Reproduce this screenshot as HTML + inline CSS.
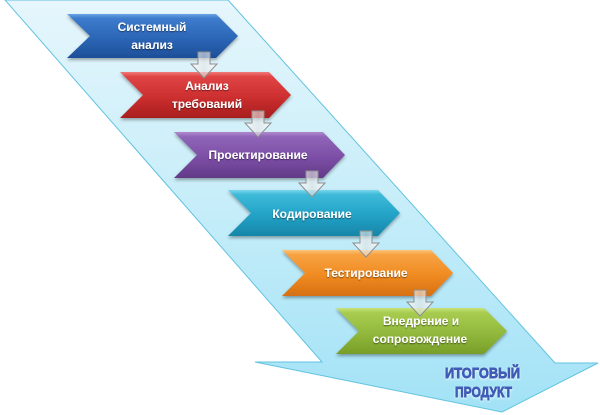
<!DOCTYPE html>
<html><head><meta charset="utf-8"><style>
html,body{margin:0;padding:0;background:#fff;width:600px;height:415px;overflow:hidden}
svg{display:block}
text{font-family:"Liberation Sans",sans-serif;font-weight:bold}
</style></head><body>
<svg width="600" height="415" viewBox="0 0 600 415" xmlns="http://www.w3.org/2000/svg">
<defs>
<linearGradient id="bg" x1="0" y1="0" x2="0" y2="1">
<stop offset="0" stop-color="#e6f6fc"/><stop offset="0.5" stop-color="#c6edf9"/><stop offset="1" stop-color="#a2e2f6"/>
</linearGradient>
<linearGradient id="gb" x1="0" y1="0" x2="0" y2="1"><stop offset="0" stop-color="#6aa3e4"/><stop offset="0.1" stop-color="#3d7bcc"/><stop offset="0.55" stop-color="#2c66b6"/><stop offset="1" stop-color="#1d4f98"/></linearGradient>
<linearGradient id="gr" x1="0" y1="0" x2="0" y2="1"><stop offset="0" stop-color="#f07a7a"/><stop offset="0.1" stop-color="#e04444"/><stop offset="0.55" stop-color="#cc2f2f"/><stop offset="1" stop-color="#a81e1e"/></linearGradient>
<linearGradient id="gp" x1="0" y1="0" x2="0" y2="1"><stop offset="0" stop-color="#b08ad0"/><stop offset="0.1" stop-color="#9066b8"/><stop offset="0.55" stop-color="#7c4ea6"/><stop offset="1" stop-color="#633a88"/></linearGradient>
<linearGradient id="gt" x1="0" y1="0" x2="0" y2="1"><stop offset="0" stop-color="#7ad6ec"/><stop offset="0.1" stop-color="#3ebad9"/><stop offset="0.55" stop-color="#22a2c6"/><stop offset="1" stop-color="#1786a8"/></linearGradient>
<linearGradient id="go" x1="0" y1="0" x2="0" y2="1"><stop offset="0" stop-color="#fcc47a"/><stop offset="0.1" stop-color="#f7a242"/><stop offset="0.55" stop-color="#f08b22"/><stop offset="1" stop-color="#d67012"/></linearGradient>
<linearGradient id="gg" x1="0" y1="0" x2="0" y2="1"><stop offset="0" stop-color="#c8e47c"/><stop offset="0.1" stop-color="#a8cc50"/><stop offset="0.55" stop-color="#92b93c"/><stop offset="1" stop-color="#789e28"/></linearGradient>
<linearGradient id="ga" x1="0" y1="0" x2="1" y2="0"><stop offset="0" stop-color="#ffffff" stop-opacity="0.75"/><stop offset="0.5" stop-color="#e4e4e4" stop-opacity="0.6"/><stop offset="1" stop-color="#ffffff" stop-opacity="0.75"/></linearGradient>
<filter id="sh" x="-10%" y="-20%" width="120%" height="150%"><feDropShadow dx="0" dy="2" stdDeviation="1.6" flood-color="#000" flood-opacity="0.35"/></filter>
<filter id="ts" x="-10%" y="-30%" width="120%" height="160%"><feDropShadow dx="0" dy="1" stdDeviation="0.6" flood-color="#000" flood-opacity="0.5"/></filter>
<filter id="gl" x="-10%" y="-30%" width="120%" height="160%"><feDropShadow dx="0" dy="1" stdDeviation="1" flood-color="#ffffff" flood-opacity="0.9"/></filter>
</defs>

<polygon points="5,0 228,0 555,363 598,363 502,412 255,362 322,362" fill="url(#bg)" stroke="#62c3df" stroke-width="1"/>

<g filter="url(#sh)">
<path d="M67,14 L216,14 L238,36 L216,58 L67,58 L90,36 Z" fill="url(#gb)"/>
<path d="M120,72 L269,72 L291,95 L269,118 L120,118 L143,95 Z" fill="url(#gr)"/>
<path d="M174,132 L323,132 L345,155 L323,178 L174,178 L197,155 Z" fill="url(#gp)"/>
<path d="M228,190 L378,190 L400,213 L378,236 L228,236 L251,213 Z" fill="url(#gt)"/>
<path d="M282,250 L431,250 L453,273 L431,296 L282,296 L305,273 Z" fill="url(#go)"/>
<path d="M336,308 L484,308 L507,331 L484,354 L336,354 L359,331 Z" fill="url(#gg)"/>
</g>

<g fill="url(#ga)" stroke="#8e8e8e" stroke-width="1">
<path d="M198,52 L210,52 L210,64 L217,64 L204,78 L191,64 L198,64 Z"/>
<path d="M252,111 L264,111 L264,123 L271,123 L258,137 L245,123 L252,123 Z"/>
<path d="M306,171 L318,171 L318,183 L325,183 L312,197 L299,183 L306,183 Z"/>
<path d="M360,231 L372,231 L372,243 L379,243 L366,257 L353,243 L360,243 Z"/>
<path d="M414,290 L426,290 L426,302 L433,302 L420,316 L407,302 L414,302 Z"/>
</g>

<g fill="#ffffff" font-size="12" text-anchor="middle" filter="url(#ts)">
<text x="152" y="31">Системный</text>
<text x="152" y="49">анализ</text>
<text x="207" y="90">Анализ</text>
<text x="207" y="108">требований</text>
<text x="258" y="159">Проектирование</text>
<text x="312" y="218">Кодирование</text>
<text x="366" y="277">Тестирование</text>
<text x="421" y="325">Внедрение и</text>
<text x="420" y="343">сопровождение</text>
</g>

<g fill="#3d5db6" font-size="15" filter="url(#gl)" stroke="#3d5db6" stroke-width="0.9">
<text x="445" y="378" textLength="75" lengthAdjust="spacingAndGlyphs">ИТОГОВЫЙ</text>
<text x="455" y="397" textLength="57" lengthAdjust="spacingAndGlyphs">ПРОДУКТ</text>
</g>
</svg>
</body></html>
